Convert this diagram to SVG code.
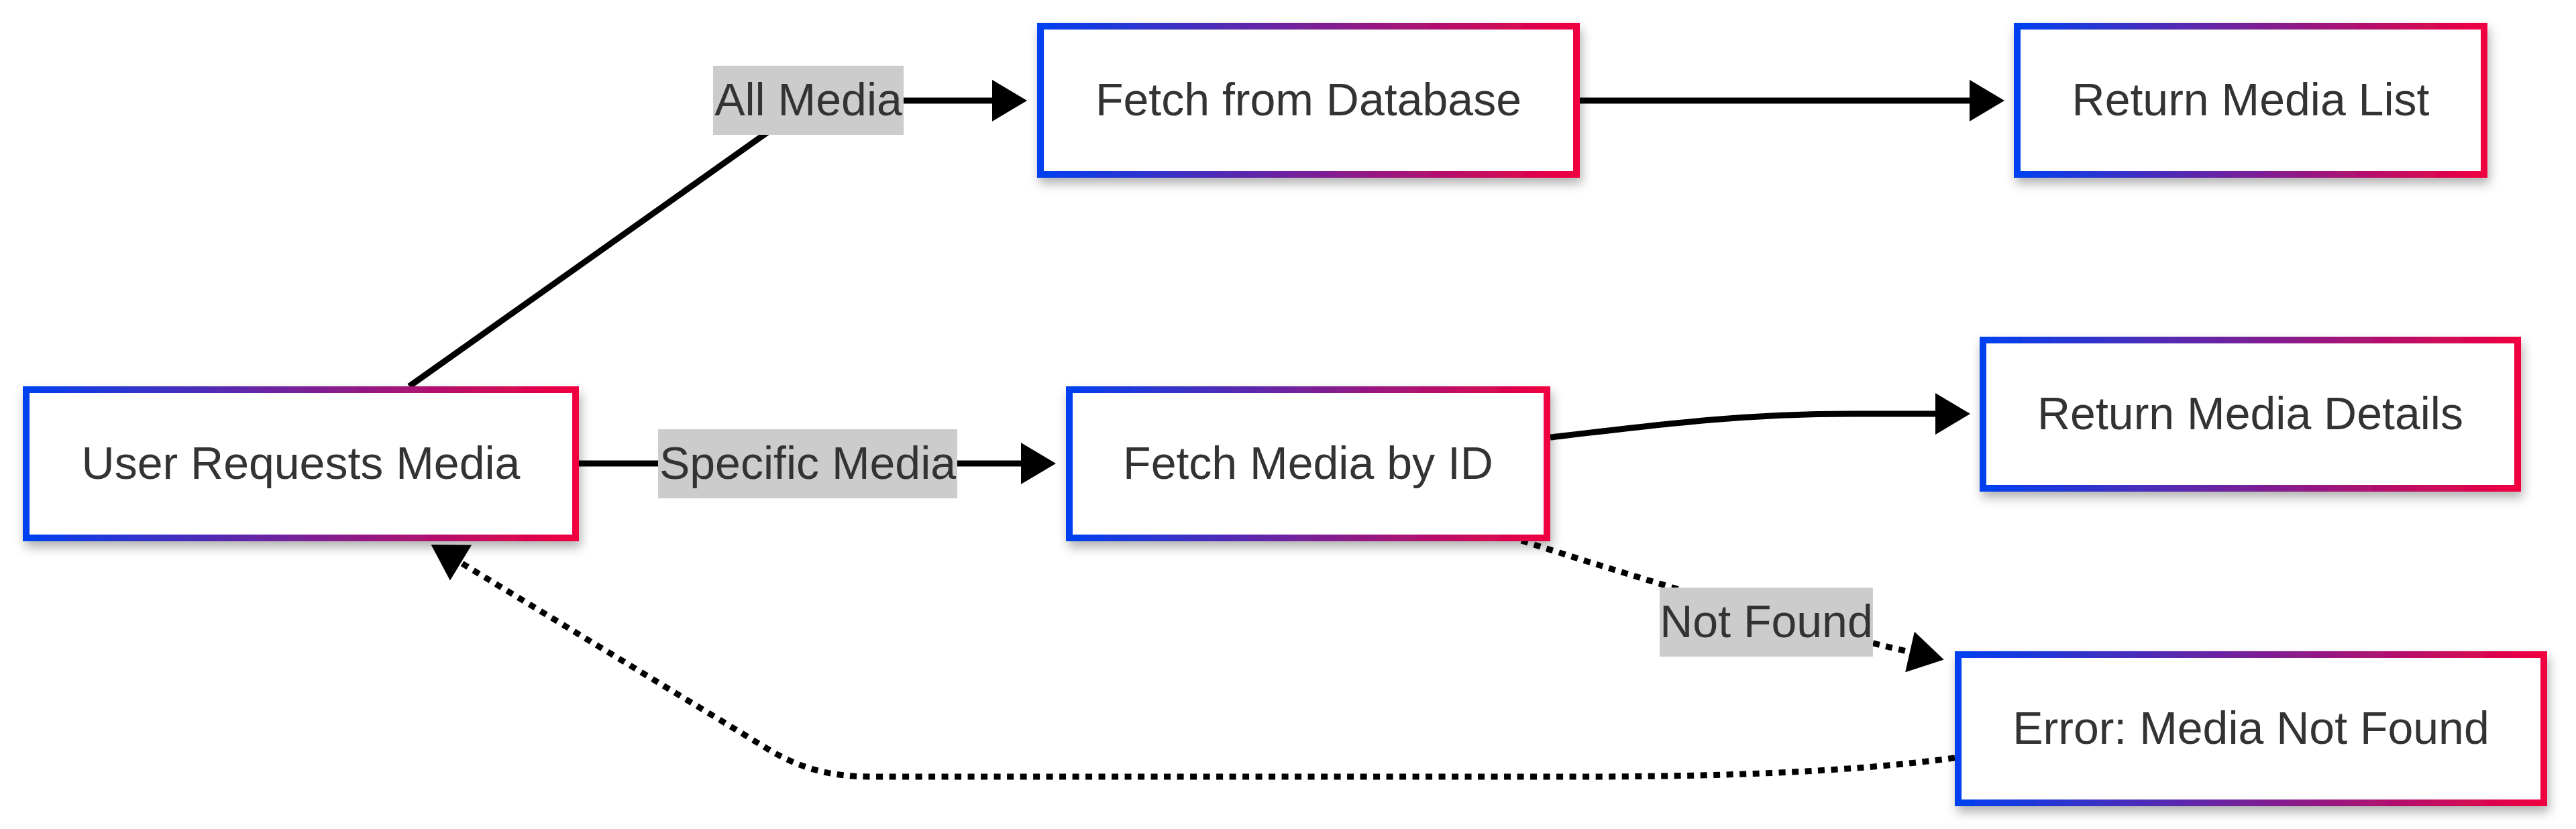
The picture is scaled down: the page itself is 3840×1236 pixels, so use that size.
<svg xmlns="http://www.w3.org/2000/svg" width="3840" height="1236" viewBox="0 0 3840 1236">
  <style>
    .node rect { fill: #ffffff; stroke: url(#grad); stroke-width: 10; filter: url(#shadow); }
    .node text, .elabel text { font-family: "Liberation Sans", Arial, sans-serif; font-size: 68px; fill: #333333; text-anchor: middle; }
    .elabel rect { fill: #cccccc; }
    .edge { fill: none; stroke: #000000; stroke-width: 9; }
    .dotted { stroke-dasharray: 10 9.5; }
  </style>
  <defs>
    <linearGradient id="grad" x1="0" y1="0" x2="1" y2="0">
      <stop offset="0" stop-color="#0040f0"/>
      <stop offset="1" stop-color="#f00040"/>
    </linearGradient>
    <filter id="shadow" x="-10%" y="-20%" width="125%" height="150%">
      <feDropShadow dx="3" dy="9" stdDeviation="8" flood-color="#000000" flood-opacity="0.3"/>
    </filter>
    <marker id="arrow" markerUnits="userSpaceOnUse" markerWidth="52" markerHeight="62" viewBox="0 0 52 62" refX="0" refY="31" orient="auto" overflow="visible">
      <path d="M0,0 L52,31 L0,62 z" fill="#000000"/>
    </marker>
  </defs>
  <rect x="0" y="0" width="3840" height="1236" fill="#ffffff"/>

  <g id="connectors">
    <path class="edge" d="M610,576 L1160,186 Q1195,155 1240,150 L1479,150" marker-end="url(#arrow)"/>
    <path class="edge" d="M863,691 L1522,691" marker-end="url(#arrow)"/>
    <path class="edge" d="M2355,150 L2936,150" marker-end="url(#arrow)"/>
    <path class="edge" d="M2311,652 C2480,632 2600,617 2760,617 L2885,617" marker-end="url(#arrow)"/>
    <path class="edge dotted" d="M2268,806 Q2640,925 2847,972" marker-end="url(#arrow)"/>
    <path class="edge dotted" d="M2914,1130 C2750,1152 2550,1158 2350,1158 L1300,1158 C1240,1158 1197,1147 1150,1120 L687,839" marker-end="url(#arrow)"/>
  </g>

  <g id="label-all-media" class="elabel">
    <rect x="1063" y="98" width="284" height="103"/>
    <text x="1205" y="172">All Media</text>
  </g>
  <g id="label-specific-media" class="elabel">
    <rect x="981" y="640" width="446" height="103"/>
    <text x="1204" y="714">Specific Media</text>
  </g>
  <g id="label-not-found" class="elabel">
    <rect x="2474" y="876" width="318" height="103"/>
    <text x="2633" y="950">Not Found</text>
  </g>

  <g id="node-user-requests" class="node">
    <rect x="39" y="581" width="819" height="221"/>
    <text x="448.5" y="714">User Requests Media</text>
  </g>
  <g id="node-fetch-db" class="node">
    <rect x="1551" y="39" width="799" height="221"/>
    <text x="1950.5" y="172">Fetch from Database</text>
  </g>
  <g id="node-return-list" class="node">
    <rect x="3007" y="39" width="696" height="221"/>
    <text x="3355" y="172">Return Media List</text>
  </g>
  <g id="node-fetch-id" class="node">
    <rect x="1594" y="581" width="712" height="221"/>
    <text x="1950" y="714">Fetch Media by ID</text>
  </g>
  <g id="node-return-details" class="node">
    <rect x="2956" y="507" width="797" height="221"/>
    <text x="3354.5" y="640">Return Media Details</text>
  </g>
  <g id="node-error" class="node">
    <rect x="2919" y="976" width="873" height="221"/>
    <text x="3355.5" y="1109">Error: Media Not Found</text>
  </g>
</svg>
